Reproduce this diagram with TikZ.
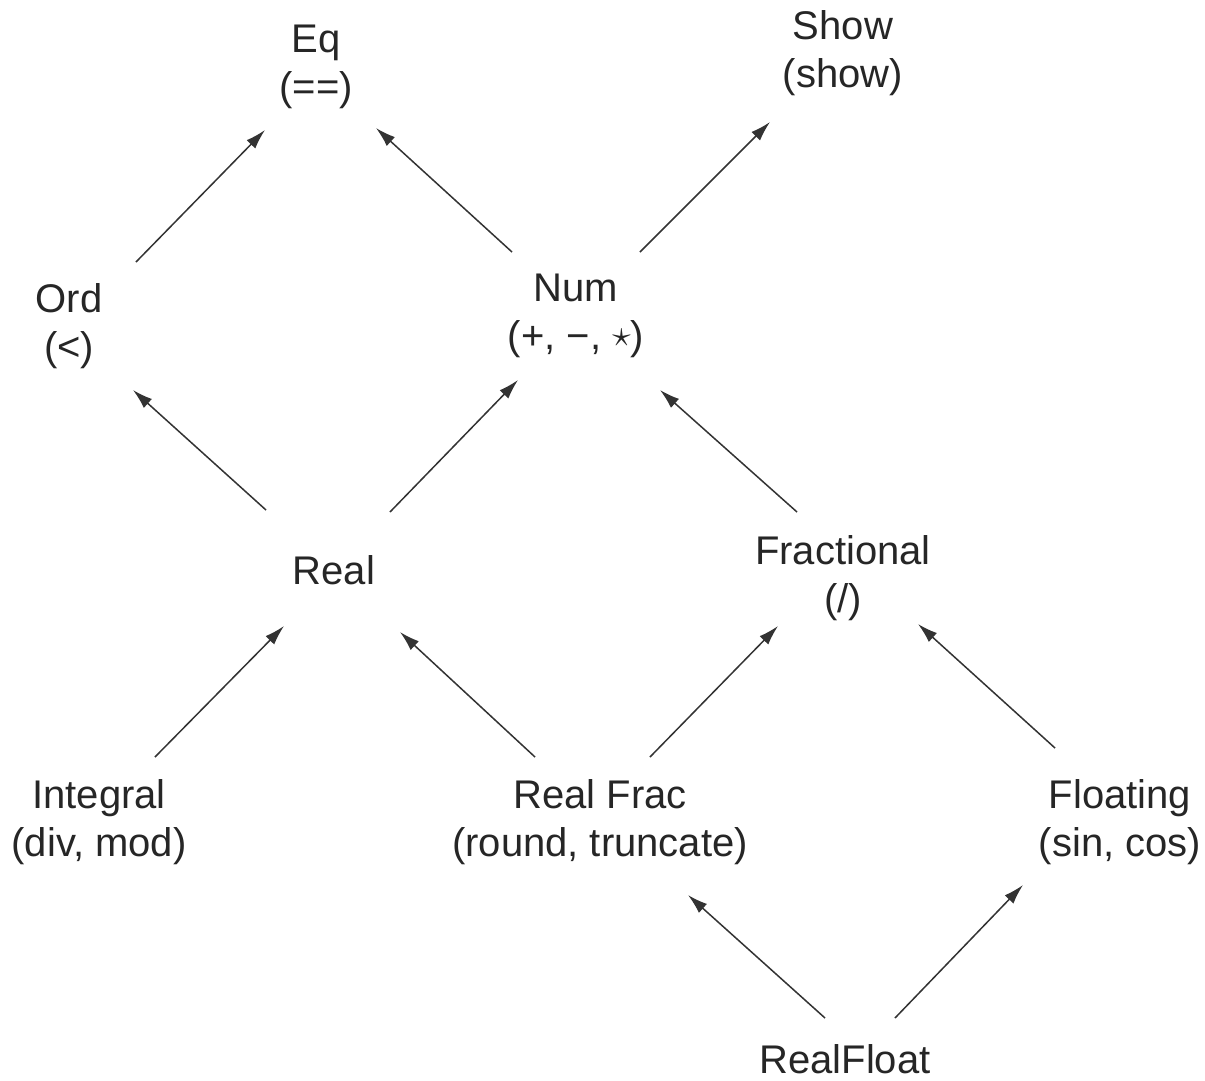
\documentclass[tikz,border=0pt]{standalone}
\usepackage{fontspec}
\usepackage{graphicx}
\setmainfont{Liberation Sans}
\usetikzlibrary{arrows.meta,calc}
\begin{document}
\begin{tikzpicture}[x=1pt,y=-1pt,
  cls/.style={inner sep=0pt,align=center,text=black!85,font=\fontsize{40}{48}\selectfont},
  arr/.style={draw=black!80,line width=1.5pt,-{Latex[length=20pt,width=12pt]}}]
\useasboundingbox[fill=white] (0,0) rectangle (1205,1080);
\node[cls] (eq) at (316,67) {Eq\\(==)};
\node[cls] (show) at (843,53) {Show\\(show)};
\node[cls] (ord) at (69,326) {Ord\\(<)};
\node[cls] (num) at (576,316) {Num\\(+, −, \raisebox{3pt}{\scalebox{1.5}{$\star$}})};
\node[cls] (real) at (334,570) {Real};
\node[cls] (frac) at (843,578) {Fractional\\(/)};
\node[cls] (int) at (99,822) {Integral\\(div, mod)};
\node[cls] (rf) at (600,822) {Real Frac\\(round, truncate)};
\node[cls] (fl) at (1120,822) {Floating\\(sin, cos)};
\node[cls] (rfl) at (845,1059) {RealFloat};
\draw[arr] ($(ord)+(67,-64)$) -- ($(eq)+(-51,63)$);
\draw[arr] ($(num)+(-64,-64)$) -- ($(eq)+(60,61)$);
\draw[arr] ($(num)+(64,-64)$) -- ($(show)+(-73,69)$);
\draw[arr] ($(real)+(-68,-60)$) -- ($(ord)+(64,64)$);
\draw[arr] ($(real)+(56,-58)$) -- ($(num)+(-58,64)$);
\draw[arr] ($(frac)+(-46,-66)$) -- ($(num)+(84,74)$);
\draw[arr] ($(int)+(56,-65)$) -- ($(real)+(-50,56)$);
\draw[arr] ($(rf)+(-65,-65)$) -- ($(real)+(66,62)$);
\draw[arr] ($(rf)+(50,-65)$) -- ($(frac)+(-65,48)$);
\draw[arr] ($(fl)+(-65,-74)$) -- ($(frac)+(75,46)$);
\draw[arr] ($(rfl)+(-20,-41)$) -- ($(rf)+(88,73)$);
\draw[arr] ($(rfl)+(50,-41)$) -- ($(fl)+(-97,63)$);
\end{tikzpicture}
\end{document}
